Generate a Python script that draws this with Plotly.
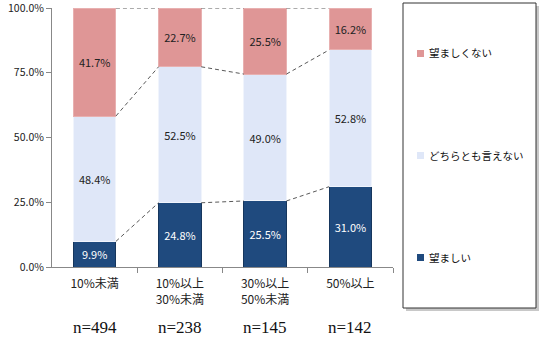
import plotly.graph_objects as go

categories = ["10%未満", "10%以上<br>30%未満", "30%以上<br>50%未満", "50%以上"]
n_labels = ["n=494", "n=238", "n=145", "n=142"]
good = [9.9, 24.8, 25.5, 31.0]          # 望ましい
neutral = [48.4, 52.5, 49.0, 52.8]      # どちらとも言えない
bad = [41.7, 22.7, 25.5, 16.2]          # 望ましくない
series_names = ["望ましい", "どちらとも言えない", "望ましくない"]
colors = ["#1f4a7e", "#dfe7f8", "#df9696"]
line_colors = ["#16365d", "#f0f4fc", "#e8b0b0"]
text_colors = ["white", "#222222", "#222222"]

BAR_W = 0.5
xs = list(range(len(categories)))
fig = go.Figure()

series = [good, neutral, bad]
for i, (name, vals) in enumerate(zip(series_names, series)):
    fig.add_trace(go.Bar(
        x=xs, y=vals, name=name, width=BAR_W,
        marker=dict(color=colors[i], line=dict(color=line_colors[i], width=1)),
        texttemplate="%{y:.1f}%", textposition="inside", insidetextanchor="middle",
        textfont=dict(size=11, color=text_colors[i], family="Noto Sans CJK JP"),
        showlegend=False,
    ))

# connecting dashed lines
cum1 = good
cum2 = [a + b for a, b in zip(good, neutral)]
cum3 = [a + b + c for a, b, c in zip(good, neutral, bad)]
for levels in (cum1, cum2, cum3):
    for i in range(len(xs) - 1):
        fig.add_trace(go.Scatter(
            x=[xs[i] + BAR_W / 2, xs[i + 1] - BAR_W / 2],
            y=[levels[i], levels[i + 1]], mode="lines",
            line=dict(color="#595959", width=1, dash="4px,3px"),
            showlegend=False, hoverinfo="skip"))

# n labels
for x, t in zip(xs, n_labels):
    fig.add_annotation(x=x, y=-0.232, xref="x", yref="paper", text=t,
                       showarrow=False, yanchor="middle",
                       font=dict(family="Liberation Serif", size=17, color="#111111"))

# legend box with shadow
def px_x(p):
    return (p - 52) / 341
def px_y(q):
    return (267 - q) / 259

fig.add_shape(type="rect", xref="paper", yref="paper",
              x0=px_x(406), x1=px_x(539), y0=px_y(311), y1=px_y(6),
              fillcolor="#c8c8c8", line=dict(width=0), layer="below")
fig.add_shape(type="rect", xref="paper", yref="paper",
              x0=px_x(403), x1=px_x(536), y0=px_y(308), y1=px_y(3),
              fillcolor="white", line=dict(color="#333333", width=1), layer="below")

# legend entries (top to bottom: 望ましくない, どちらとも言えない, 望ましい)
legend_y = [257, 155, 53]
for i, name in enumerate(series_names):
    yc = legend_y[i]
    fig.add_shape(type="rect", xref="paper", yref="paper",
                  x0=px_x(417), x1=px_x(424), y0=px_y(yc + 4), y1=px_y(yc - 3),
                  fillcolor=colors[i], line=dict(width=0))
    fig.add_annotation(x=px_x(427), y=px_y(yc), xref="paper", yref="paper",
                       text=name, showarrow=False, xanchor="left", yanchor="middle",
                       font=dict(size=10.5, color="#111111"))

fig.update_layout(
    width=543, height=337,
    margin=dict(l=52, r=150, t=8, b=70, autoexpand=False),
    barmode="stack",
    plot_bgcolor="white", paper_bgcolor="white",
    font=dict(family="Noto Sans CJK JP", size=11, color="#222222"),
    showlegend=False,
    xaxis=dict(range=[-0.5, 3.5], tickvals=xs, ticktext=categories,
               ticks="", showgrid=False, showline=True, linecolor="#888888",
               linewidth=1, zeroline=False, fixedrange=True, automargin=False,
               tickfont=dict(size=12), ticklabelstandoff=6,
               minor=dict(tickvals=[0.5, 1.5, 2.5, 3.5], ticks="outside",
                          ticklen=5, tickcolor="#888888")),
    yaxis=dict(range=[0, 100], tickvals=[0, 25, 50, 75, 100],
               ticktext=["0.0%", "25.0%", "50.0%", "75.0%", "100.0%"],
               ticks="outside", ticklen=5, tickcolor="#888888",
               ticklabeloverflow="allow", automargin=False,
               showgrid=False, showline=True, linecolor="#888888",
               zeroline=False, tickfont=dict(size=10.5)),
)

fig.write_html("out.html")
